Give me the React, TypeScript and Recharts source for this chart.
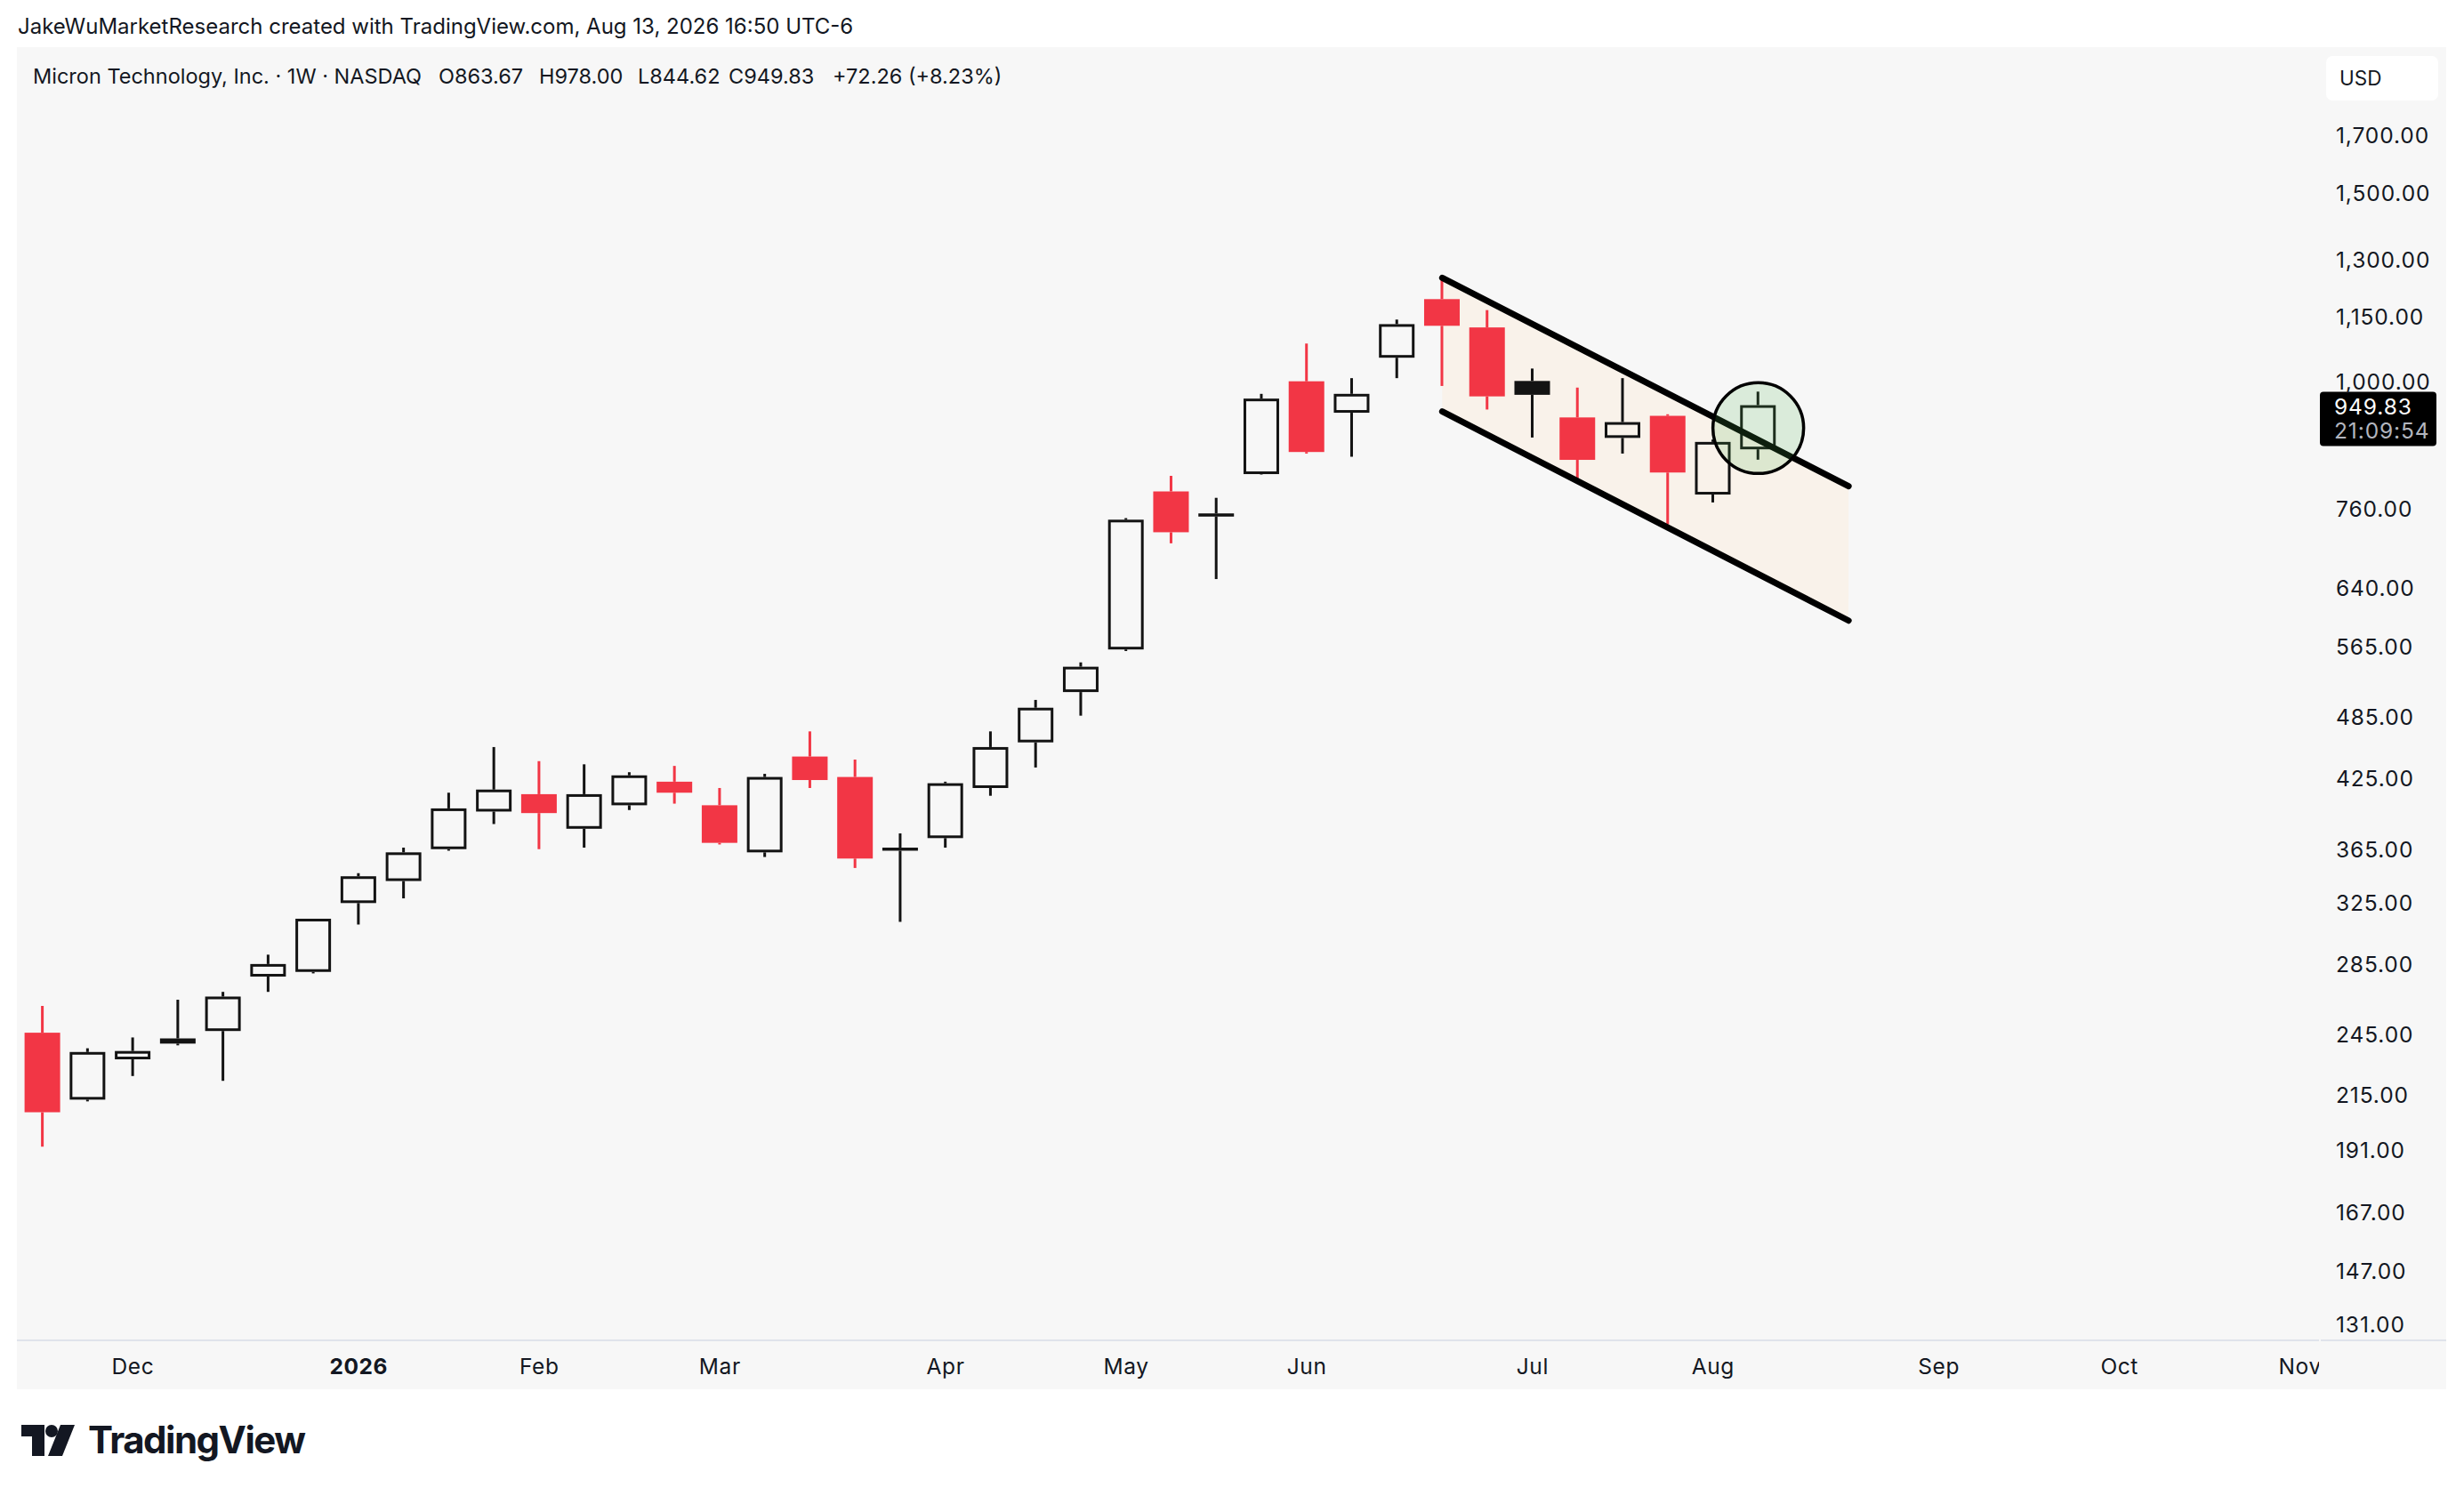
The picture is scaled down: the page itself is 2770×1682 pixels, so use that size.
import { ComposedChart, Bar, Line, Area, XAxis, YAxis, ReferenceDot, ReferenceLine } from 'recharts'

// weekly candles, MU, week of Nov 17 2025 .. week of Aug 10 2026
const opens = [
  245.8, 212.8, 232.1, 242.8, 246.7, 277.4, 280.2, 325.0, 340.8, 365.0,
  395.8, 410.9, 381.4, 401.2, 422.1, 401.2, 362.5, 445.6, 426.4, 363.8,
  373.8, 416.4, 459.4, 512.0, 561.2, 788.8, 747.2, 818.8, 1000.0, 934.5,
  1052.1, 1193.6, 1123.0, 1000.7, 925.1, 885.2, 928.3, 783.5, 863.67,
]
const highs = [
  260.4, 237.7, 243.3, 263.9, 268.4, 290.8, 314.5, 346.6, 366.2, 412.2,
  454.8, 441.2, 438.2, 430.8, 436.7, 416.4, 429.3, 470.4, 442.7, 377.6,
  422.1, 470.4, 503.4, 545.8, 744.7, 815.7, 778.0, 973.3, 1084.7, 1006.8,
  1142.2, 1248.2, 1165.7, 1027.8, 986.5, 1006.8, 931.4, 882.0, 978.0,
]
const lows = [
  192.3, 212.0, 223.9, 239.2, 221.6, 268.4, 279.3, 310.3, 328.3, 363.8,
  385.3, 365.0, 366.2, 397.1, 402.6, 368.7, 358.9, 416.4, 350.5, 312.1,
  366.2, 409.5, 435.2, 486.6, 559.3, 705.4, 653.1, 818.0, 855.8, 850.0,
  1006.8, 990.0, 941.0, 885.9, 810.2, 855.8, 734.7, 770.3, 844.62,
]
const closes = [
  207.1, 235.8, 236.3, 240.1, 265.7, 285.0, 314.2, 344.3, 362.5, 398.5,
  415.0, 394.5, 410.9, 427.9, 412.2, 370.0, 426.4, 423.6, 357.7, 366.2,
  420.7, 454.8, 495.0, 540.7, 742.2, 722.4, 752.3, 963.4, 858.7, 973.3,
  1131.0, 1127.0, 968.0, 971.3, 844.3, 915.8, 821.6, 877.57, 949.83,
]

const totalSlots = 51 // chart runs on to early Nov
const monthTicks = [2, 7, 11, 15, 20, 24, 28, 33, 37, 42, 46, 50]
const monthLabels = ['Dec', '2026', 'Feb', 'Mar', 'Apr', 'May', 'Jun', 'Jul', 'Aug', 'Sep', 'Oct', 'Nov']
// 900.00 sits under the last-price tag, so it is left out
const priceTicks = [131, 147, 167, 191, 215, 245, 285, 325, 365, 425, 485, 565, 640, 760, 1000, 1150, 1300, 1500, 1700]

// falling channel drawn on the chart
const channelIdx = [31, 40]
const channelUpper = [1249.6, 797.7]
const channelLower = [937.0, 597.2]
const markIdx = 38
const markPrice = 904
const lastPrice = 949.83
const countdown = '21:09:54'

const RED = '#f23645'
const BLACK = '#131313'
const FONT = "Inter, 'Liberation Sans', sans-serif"

const fmtPrice = (v: number) =>
  v.toLocaleString('en-US', { minimumFractionDigits: 2, maximumFractionDigits: 2 })

const rows = Array.from({ length: totalSlots }, (_, i) => {
  const row: any = { i }
  if (i < opens.length) {
    const o = opens[i], c = closes[i]
    const prev = i > 0 ? closes[i - 1] : o
    const top = Math.max(o, c), bot = Math.min(o, c)
    row.upWick = [top, highs[i]]
    row.loWick = [lows[i], bot]
    row.body = [bot, top]
    row.color = c < prev ? RED : BLACK
    row.hollow = c > o
  }
  const k = channelIdx.indexOf(i)
  if (k >= 0) {
    row.chUp = channelUpper[k]
    row.chLo = channelLower[k]
    row.chan = [channelLower[k], channelUpper[k]]
  }
  return row
})

function Wick(props: any) {
  const { x, y, width, height, payload } = props
  if (!payload || !payload.color || !(height > 0.5)) return null
  return <rect x={x + width / 2 - 1.5} y={y} width={3} height={height} fill={payload.color} />
}

function Body(props: any) {
  const { x, y, width, height, payload } = props
  if (!payload || !payload.color) return null
  const h = Math.max(height || 0, 3)
  if (payload.hollow && h > 6) {
    return <rect x={x + 1.5} y={y + 1.5} width={width - 3} height={h - 3} fill="none" stroke={payload.color} strokeWidth={3} />
  }
  return <rect x={x} y={y} width={width} height={h} fill={payload.color} />
}

function PriceTick({ x, y, payload }: any) {
  return (
    <text x={x + 19} y={y} dy="0.36em" textAnchor="start" fontSize={24.5} letterSpacing={0.9} fill="#131722" fontFamily={FONT}>
      {fmtPrice(payload.value)}
    </text>
  )
}

function MonthTick({ x, y, payload }: any) {
  const label = monthLabels[monthTicks.indexOf(payload.value)]
  return (
    <text x={x} y={y + 38} textAnchor="middle" fontSize={24.5} letterSpacing={0.6} fill="#131722" fontFamily={FONT}
      fontWeight={label === '2026' ? 700 : 400} clipPath="url(#timeClip)">
      {label}
    </text>
  )
}

function PriceTag({ viewBox }: any) {
  if (!viewBox) return null
  const x = viewBox.x + viewBox.width + 1
  const y = viewBox.y
  return (
    <g fontFamily={FONT} fontSize={24.5} letterSpacing={0.9}>
      <rect x={x} y={y - 15} width={131} height={61} rx={4} fill="#000" />
      <text x={x + 16} y={y + 2} dy="0.36em" fill="#fff">{lastPrice.toFixed(2)}</text>
      <text x={x + 16} y={y + 29} dy="0.36em" fill="#b2b5be">{countdown}</text>
    </g>
  )
}

function Logo() {
  return (
    <div style={{ position: 'absolute', left: 24, top: 1596, display: 'flex', alignItems: 'center', gap: 15 }}>
      <svg width={60} height={35} viewBox="0 0 60 35">
        <path d="M0 0 H26 V35 H12 V13 H0 Z" fill="#131722" />
        <circle cx={34} cy={7} r={7} fill="#131722" />
        <path d="M44 0 H60 L46 35 H30 Z" fill="#131722" />
      </svg>
      <span style={{ fontFamily: FONT, fontWeight: 700, fontSize: 42, letterSpacing: -1.5, color: '#131722', lineHeight: '46px' }}>
        TradingView
      </span>
    </div>
  )
}

const legendItems = [
  { x: 18, text: 'Micron Technology, Inc. · 1W · NASDAQ' },
  { x: 474, text: 'O863.67' },
  { x: 587, text: 'H978.00' },
  { x: 698, text: 'L844.62' },
  { x: 800, text: 'C949.83' },
  { x: 917, text: '+72.26 (+8.23%)' },
]

export default function App() {
  return (
    <div style={{ position: 'absolute', left: 0, top: 0, width: 2770, height: 1682, background: '#fff', fontFamily: FONT, color: '#131722' }}>
      <div style={{ position: 'absolute', left: 20, top: 16, fontSize: 24, lineHeight: '28px', whiteSpace: 'nowrap' }}>
        JakeWuMarketResearch created with TradingView.com, Aug 13, 2026 16:50 UTC-6
      </div>

      <div style={{ position: 'absolute', left: 19, top: 53, width: 2731, height: 1509, background: '#f7f7f7' }}>
        <ComposedChart width={2731} height={1509} data={rows} margin={{ top: 0, right: 0, bottom: 0, left: 0 }} barGap={-40}>
          <defs>
            <clipPath id="timeClip">
              <rect x={0} y={1454} width={2588} height={55} />
            </clipPath>
          </defs>
          <XAxis dataKey="i" type="number" domain={[-0.571, 50.42]} allowDataOverflow ticks={monthTicks}
            interval={0} height={55} tickSize={0} tickMargin={0} tickLine={false}
            axisLine={{ stroke: '#e0e3eb', strokeWidth: 2 }} tick={<MonthTick />} />
          <YAxis orientation="right" scale="log" domain={[126.7, 2054]} allowDataOverflow ticks={priceTicks}
            interval={0} width={143} tickSize={0} tickMargin={0} tickLine={false} axisLine={false} tick={<PriceTick />} />

          <Area dataKey="chan" type="linear" stroke="none" fill="#f9f2ea" fillOpacity={1} connectNulls
            dot={false} activeDot={false} isAnimationActive={false} />

          <Bar dataKey="upWick" barSize={40} shape={<Wick />} isAnimationActive={false} />
          <Bar dataKey="loWick" barSize={40} shape={<Wick />} isAnimationActive={false} />
          <Bar dataKey="body" barSize={40} shape={<Body />} isAnimationActive={false} />

          <Line dataKey="chUp" type="linear" stroke="#000" strokeWidth={7} strokeLinecap="round" connectNulls
            dot={false} activeDot={false} isAnimationActive={false} />
          <Line dataKey="chLo" type="linear" stroke="#000" strokeWidth={7} strokeLinecap="round" connectNulls
            dot={false} activeDot={false} isAnimationActive={false} />

          <ReferenceDot x={markIdx} y={markPrice} r={51} fill="#4caf50" fillOpacity={0.17} stroke="#000" strokeWidth={3.5} />
          <ReferenceLine y={lastPrice} stroke="none" label={<PriceTag />} />
        </ComposedChart>

        {legendItems.map((it) => (
          <div key={it.text} style={{ position: 'absolute', left: it.x, top: 19, fontSize: 23.5, lineHeight: '28px', whiteSpace: 'nowrap' }}>
            {it.text}
          </div>
        ))}

        <div style={{ position: 'absolute', left: 2596, top: 10, width: 126, height: 50, background: '#fff', borderRadius: 7,
          fontSize: 22.5, lineHeight: '50px', paddingLeft: 15, boxSizing: 'border-box' }}>
          USD
        </div>

        <div style={{ position: 'absolute', left: 2590, top: 1453, width: 141, height: 2, background: '#e0e3eb' }} />
      </div>

      <Logo />
    </div>
  )
}
